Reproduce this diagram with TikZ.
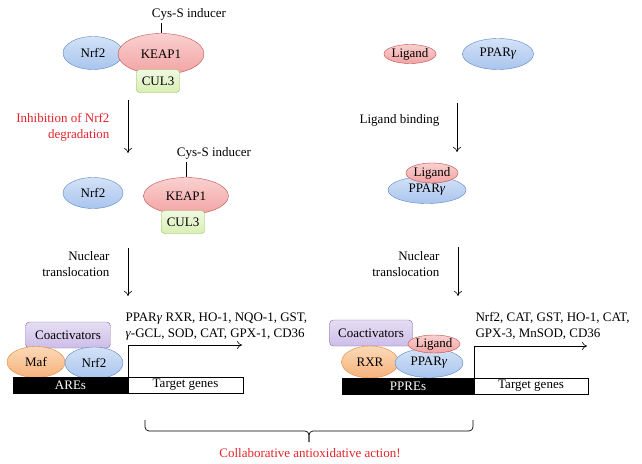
\documentclass[tikz,border=0pt]{standalone}
\usepackage{fontspec}
\setmainfont{Liberation Serif}
\definecolor{bpLine}{HTML}{5B85C4}
\definecolor{bpTop}{HTML}{D3E2F7}
\definecolor{bpBot}{HTML}{A9C5EE}
\definecolor{rpLine}{HTML}{C0504D}
\definecolor{rpTop}{HTML}{FAD0D0}
\definecolor{rpBot}{HTML}{F2A3A3}
\definecolor{gpLine}{HTML}{9BBB59}
\definecolor{gpTop}{HTML}{F0F9E2}
\definecolor{gpBot}{HTML}{D8EFB4}
\definecolor{ppLine}{HTML}{8064A2}
\definecolor{ppTop}{HTML}{E6DEF3}
\definecolor{ppBot}{HTML}{CDBDE8}
\definecolor{opLine}{HTML}{E3873A}
\definecolor{opTop}{HTML}{FBD9B8}
\definecolor{opBot}{HTML}{F7B27C}
\definecolor{noteRed}{HTML}{E3242B}
\usetikzlibrary{shapes.geometric,arrows.meta}

\begin{document}
\begin{tikzpicture}[x=1pt, y=-1pt,
  font=\fontsize{13}{16}\selectfont,
  prot/.style={ellipse, inner sep=0pt},
  blueprot/.style={prot, draw=bpLine, top color=bpTop, bottom color=bpBot},
  redprot/.style={prot, draw=rpLine, top color=rpTop, bottom color=rpBot},
  orgprot/.style={prot, draw=opLine, top color=opTop, bottom color=opBot},
  culbox/.style={rounded corners=3pt, draw=gpLine, top color=gpTop, bottom color=gpBot,
    minimum width=43, minimum height=23, inner sep=0pt},
  coact/.style={rounded corners=4pt, draw=ppLine, top color=ppTop, bottom color=ppBot,
    minimum height=26, inner sep=0pt},
  dnablk/.style={draw=black, fill=black, text=white, minimum height=16, inner sep=0pt},
  genebox/.style={draw=black, fill=white, minimum height=16, inner sep=0pt},
  arr/.style={-{To[length=5pt,width=8pt]}, line width=0.6pt},
  bracket/.style={line width=0.7pt, rounded corners=4pt},
  note/.style={align=right, anchor=east}
]
  \useasboundingbox (0,0) rectangle (642,463);

  % Nrf2 / KEAP1 side
  \node[blueprot, minimum width=60, minimum height=33] (nrfA) at (93,53) {Nrf2};
  \node[redprot, minimum width=86, minimum height=41] (keapA) at (161,54) {KEAP1};
  \node[culbox] (culA) at (158,81) {CUL3};
  \node (cysA) at (189,14) {Cys-S inducer};
  \draw[line width=0.6pt] (cysA.south -| keapA.north) -- (keapA.north);

  \coordinate (inhS) at (128,100);
  \coordinate (inhE) at (128,153);
  \draw[arr] (inhS) -- (inhE);
  \node[note, text=noteRed] (inhTxt) at (113,127) {Inhibition of Nrf2\\degradation};

  \node[blueprot, minimum width=60, minimum height=31] (nrfB) at (93,193) {Nrf2};
  \node[redprot, minimum width=85, minimum height=37] (keapB) at (186,196) {KEAP1};
  \node[culbox] (culB) at (183,222) {CUL3};
  \node (cysB) at (214,153) {Cys-S inducer};
  \draw[line width=0.6pt] (cysB.south -| keapB.north) -- (keapB.north);

  \coordinate (nucAS) at (128,248);
  \coordinate (nucAE) at (128,296);
  \draw[arr] (nucAS) -- (nucAE);
  \node[note] (nucATxt) at (113,264) {Nuclear\\translocation};

  \node[coact, minimum width=85] (coactA) at (68,335) {Coactivators};
  \node[orgprot, minimum width=58, minimum height=31] (mafA) at (36,362) {Maf};
  \node[blueprot, minimum width=58, minimum height=32] (nrfC) at (94,363) {Nrf2};
  \node[dnablk, minimum width=115] (aresA) at (70.5,385) {AREs};
  \node[genebox, minimum width=115] (targetA) at (185.5,385) {Target genes};
  \coordinate (tssA) at (242,345);
  \draw[arr] (targetA.north west) |- (tssA);
  \node[anchor=west, align=left] (genesA) at (122,327)
    {PPAR\textit{γ} RXR, HO-1, NQO-1, GST,\\\textit{γ}-GCL, SOD, CAT, GPX-1, CD36};

  % PPARgamma side
  \node[redprot, minimum width=51, minimum height=19] (ligA) at (410,54) {Ligand};
  \node[blueprot, minimum width=71, minimum height=31] (pparA) at (498,54) {PPAR\textit{γ}};

  \coordinate (bindS) at (457,103);
  \coordinate (bindE) at (457,152);
  \draw[arr] (bindS) -- (bindE);
  \node[note] (bindTxt) at (443,120) {Ligand binding};

  \node[blueprot, minimum width=78, minimum height=27] (pparB) at (427,190) {PPAR\textit{γ}};
  \node[redprot, minimum width=47, minimum height=20] (ligB) at (432,173) {Ligand};

  \coordinate (nucBS) at (458,247);
  \coordinate (nucBE) at (458,296);
  \draw[arr] (nucBS) -- (nucBE);
  \node[note] (nucBTxt) at (443,264) {Nuclear\\translocation};

  \node[coact, minimum width=83] (coactB) at (371,333) {Coactivators};
  \node[orgprot, minimum width=57, minimum height=32] (rxrA) at (370,362) {RXR};
  \node[blueprot, minimum width=68, minimum height=29] (pparC) at (429,363) {PPAR\textit{γ}};
  \node[redprot, minimum width=48, minimum height=18] (ligC) at (434,344) {Ligand};
  \node[dnablk, minimum width=132] (ppreA) at (408,386) {PPREs};
  \node[genebox, minimum width=114] (targetB) at (531,386) {Target genes};
  \coordinate (tssB) at (587,346);
  \draw[arr] (targetB.north west) |- (tssB);
  \node[anchor=west, align=left] (genesB) at (472,326)
    {Nrf2, CAT, GST, HO-1, CAT,\\GPX-3, MnSOD, CD36};

  % joint effect
  \coordinate (brL) at (145,420);
  \coordinate (brR) at (473,420);
  \coordinate (brM) at (309,431);
  \coordinate (brT) at (309,442);
  \draw[bracket] (brL) |- (brM) -- (brT);
  \draw[bracket] (brR) |- (brM) -- (brT);
  \node[text=noteRed] (joint) at (310,453) {Collaborative antioxidative action!};
\end{tikzpicture}
\end{document}
